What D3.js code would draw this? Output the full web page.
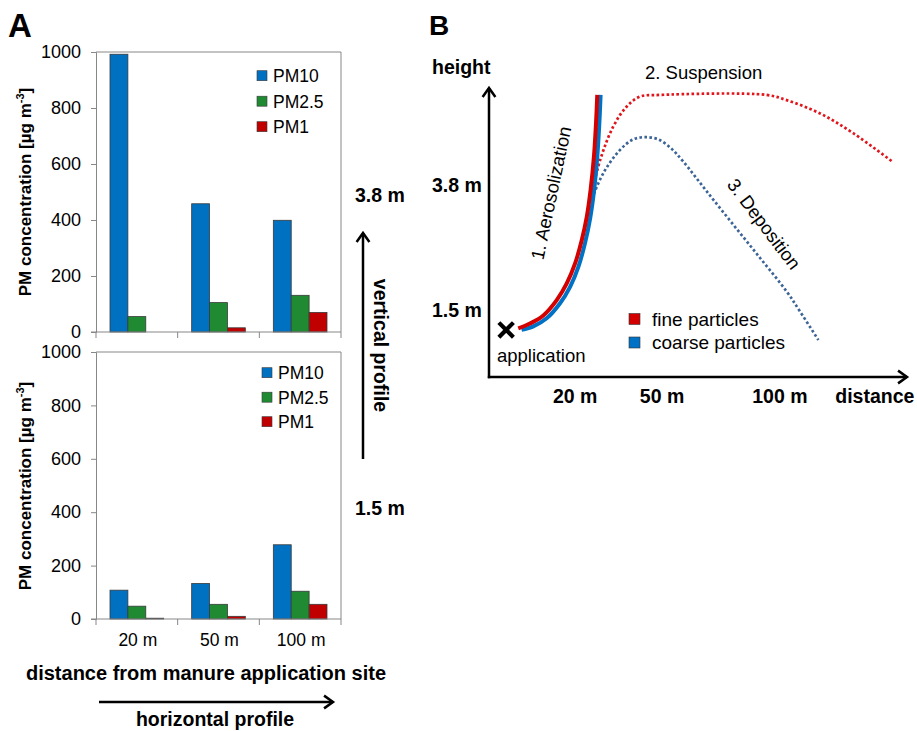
<!DOCTYPE html>
<html>
<head>
<meta charset="utf-8">
<script src="https://cdn.jsdelivr.net/npm/d3@7"></script>
<style>
  body { margin: 0; background: #fff; }
  svg { display: block; }
  text { font-family: "Liberation Sans", Arial, sans-serif; fill: #000; }
</style>
</head>
<body>
<div id="chart"></div>
<script>
/////////////////////////////////////////
//////////////// DATA ///////////////////
/////////////////////////////////////////

const distances = ["20 m", "50 m", "100 m"];
const fractions = ["PM10", "PM2.5", "PM1"];
const yTicks = [0, 200, 400, 600, 800, 1000];

//3.8 m sampling height
const pm10_high = [992, 458, 399];
const pm25_high = [55, 105, 131];
const pm1_high = [0, 15, 70];

//1.5 m sampling height
const pm10_low = [108, 133, 278];
const pm25_low = [48, 55, 104];
const pm1_low = [3, 10, 55];

//panel B schematic, [distance, height] in relative units (0-100)
const fineRise = [[7.0, 16.8], [9.8, 18.5], [13.0, 21.3], [16.2, 26.6], [18.6, 32.4], [20.6, 39.3], [22.2, 47.4], [23.4, 55.5], [24.3, 64.7], [25.1, 76.2], [25.6, 87.8], [25.9, 97.6]];
const coarseRise = [[7.8, 16.3], [10.6, 17.5], [13.8, 20.3], [17.0, 25.5], [19.4, 31.2], [21.4, 38.2], [23.0, 46.5], [24.2, 54.9], [25.1, 64.1], [25.9, 76.2], [26.4, 87.8], [26.7, 97.6]];
const fineDrift = [[24.2, 61.2], [26.6, 75.1], [29.7, 86.6], [32.9, 93.5], [36.1, 97.0], [40.9, 97.6], [66.4, 97.6], [71.2, 95.8], [79.2, 91.2], [87.2, 84.3], [96.7, 74.3]];
const coarseDrift = [[24.2, 60.1], [27.3, 70.4], [31.3, 78.5], [34.5, 82.2], [37.5, 83.0], [40.5, 82.2], [43.5, 79.2], [46.5, 74.5], [52.1, 64.2], [58.5, 52.6], [64.9, 41.1], [71.2, 29.6], [74.4, 22.7], [78.8, 12.8]];
const applicationPoint = [4.1, 16.3];

const heightLabels = ["1.5 m", "3.8 m"];
const distanceLabels = ["20 m", "50 m", "100 m", "distance"];
const particleLabels = ["fine particles", "coarse particles"];

/////////////////////////////////////////
/////////////// COLORS //////////////////
/////////////////////////////////////////

const COLORS = {
    "PM10": "#0070C0",
    "PM2.5": "#1F8A32",
    "PM1": "#C00000",
    "barStroke": "#3a3a3a",
    "axis": "#878787",
    "fine": "#D40000",
    "coarse": "#0072C6",
    "fineDot": "#E0161C",
    "coarseDot": "#3C6496"
};

const W = 917, H = 731;
const FONT_BOLD = 19.5;

const svg = d3.select("#chart").append("svg")
    .attr("width", W)
    .attr("height", H);

svg.append("rect").attr("width", W).attr("height", H).attr("fill", "#fff");

// arrow with open chevron head
function arrow(g, x1, y1, x2, y2) {
    const a = Math.atan2(y2 - y1, x2 - x1);
    const L = 11, spread = 0.62;
    g.append("line")
        .attr("x1", x1).attr("y1", y1).attr("x2", x2).attr("y2", y2)
        .attr("stroke", "#000").attr("stroke-width", 2.5);
    g.append("path")
        .attr("d", `M${x2 - L * Math.cos(a - spread)},${y2 - L * Math.sin(a - spread)}L${x2},${y2}L${x2 - L * Math.cos(a + spread)},${y2 - L * Math.sin(a + spread)}`)
        .attr("fill", "none").attr("stroke", "#000").attr("stroke-width", 2.5)
        .attr("stroke-linejoin", "miter");
}

/////////////////////////////////////////
/////////////// PANEL A /////////////////
/////////////////////////////////////////

const x0 = d3.scaleBand().domain(distances).range([96, 341]);
const x1 = d3.scaleBand().domain(fractions).range([14, x0.bandwidth() - 14]);

function barPanel(values, top, bottom, legendX, legendY, legendStep, labelY, showCats) {
    const y = d3.scaleLinear().domain([0, 1000]).range([bottom, top]);
    const g = svg.append("g");

    const rows = distances.map((d, i) => ({
        dist: d,
        vals: fractions.map((f, j) => ({ key: f, value: values[j][i] }))
    }));

    //bars
    g.selectAll("g.group")
        .data(rows)
        .join("g")
        .attr("transform", d => `translate(${x0(d.dist)},0)`)
        .selectAll("rect")
        .data(d => d.vals.filter(v => v.value > 0))
        .join("rect")
        .attr("x", d => x1(d.key))
        .attr("y", d => y(d.value))
        .attr("width", x1.bandwidth())
        .attr("height", d => y(0) - y(d.value))
        .attr("fill", d => COLORS[d.key])
        .attr("stroke", COLORS.barStroke)
        .attr("stroke-width", 0.8);

    //frame
    const [xl, xr] = x0.range();
    g.append("path")
        .attr("d", `M${xl},${y(1000)}H${xr}V${y(0)}`)
        .attr("fill", "none").attr("stroke", COLORS.axis).attr("stroke-width", 1);

    //y axis
    const yAxis = g.append("g")
        .attr("transform", `translate(${xl},0)`)
        .call(d3.axisLeft(y).tickValues(yTicks).tickFormat(d3.format("d")).tickSize(5).tickPadding(10));
    yAxis.select(".domain").attr("stroke", COLORS.axis);
    yAxis.selectAll(".tick line").attr("stroke", COLORS.axis);
    yAxis.selectAll(".tick text")
        .attr("font-size", 18).attr("fill", "#1a1a1a")
        .attr("font-family", "Liberation Sans, Arial, sans-serif");

    //x axis with separators between categories
    g.append("line")
        .attr("x1", xl - 5).attr("x2", xr).attr("y1", y(0)).attr("y2", y(0))
        .attr("stroke", COLORS.axis);
    g.selectAll("line.sep")
        .data(distances.map(d => x0(d)).concat([xr]))
        .join("line")
        .attr("class", "sep")
        .attr("x1", d => d).attr("x2", d => d)
        .attr("y1", y(0)).attr("y2", y(0) + 6)
        .attr("stroke", COLORS.axis);

    if (showCats) {
        g.selectAll("text.cat")
            .data(distances)
            .join("text")
            .attr("class", "cat")
            .attr("x", d => x0(d) + x0.bandwidth() / 2 + 1)
            .attr("y", y(0) + 27)
            .attr("text-anchor", "middle")
            .attr("font-size", 17.5)
            .attr("fill", "#1a1a1a")
            .text(d => d);
    }

    //y label
    const lab = g.append("text")
        .attr("transform", `translate(31,${labelY}) rotate(-90)`)
        .attr("text-anchor", "middle")
        .attr("font-size", 17)
        .attr("font-weight", "bold")
        .attr("fill", "#1a1a1a");
    lab.append("tspan").text("PM concentration [µg m");
    lab.append("tspan").attr("dy", -7).attr("font-size", 11).text("-3");
    lab.append("tspan").attr("dy", 7).text("]");

    //legend
    const leg = g.selectAll("g.leg")
        .data(fractions)
        .join("g")
        .attr("transform", (d, i) => `translate(${legendX},${legendY + i * legendStep})`);
    leg.append("rect")
        .attr("x", 0).attr("y", -5).attr("width", 10).attr("height", 10)
        .attr("fill", d => COLORS[d]).attr("stroke", COLORS.barStroke).attr("stroke-width", 0.6);
    leg.append("text")
        .attr("x", 16).attr("y", 6.3)
        .attr("font-size", 17.5).attr("fill", "#1a1a1a")
        .text(d => d);
}

barPanel([pm10_high, pm25_high, pm1_high], 52, 332, 257, 75.7, 25.5, 192, false);
barPanel([pm10_low, pm25_low, pm1_low], 352, 619, 262, 372.7, 24.5, 486, true);

//panel A annotations
svg.append("text").attr("x", 8).attr("y", 37)
    .attr("font-size", 33).attr("font-weight", "bold").text("A");

svg.append("text").attr("x", 355).attr("y", 201.5)
    .attr("font-size", FONT_BOLD).attr("font-weight", "bold").text(heightLabels[1]);
svg.append("text").attr("x", 355).attr("y", 514.5)
    .attr("font-size", FONT_BOLD).attr("font-weight", "bold").text(heightLabels[0]);

const annA = svg.append("g");
arrow(annA, 363, 459, 363, 233);
arrow(annA, 99, 702, 333, 702);

svg.append("text")
    .attr("transform", "translate(374,345.5) rotate(90)")
    .attr("text-anchor", "middle")
    .attr("font-size", FONT_BOLD).attr("font-weight", "bold")
    .text("vertical profile");

svg.append("text").attr("x", 206).attr("y", 680)
    .attr("text-anchor", "middle")
    .attr("font-size", 20).attr("font-weight", "bold")
    .text("distance from manure application site");

svg.append("text").attr("x", 215).attr("y", 726)
    .attr("text-anchor", "middle")
    .attr("font-size", FONT_BOLD).attr("font-weight", "bold")
    .text("horizontal profile");

/////////////////////////////////////////
/////////////// PANEL B /////////////////
/////////////////////////////////////////

const xB = d3.scaleLinear().domain([0, 100]).range([489, 907]);
const yB = d3.scaleLinear().domain([0, 100]).range([377, 88]);

const gB = svg.append("g");

svg.append("text").attr("x", 429).attr("y", 35)
    .attr("font-size", 28).attr("font-weight", "bold").text("B");

//axes
arrow(gB, xB(0), yB(0) + 1.2, xB(0), yB(100));
arrow(gB, xB(0) - 1.2, yB(0), xB(100), yB(0));

const line = d3.line()
    .x(d => xB(d[0]))
    .y(d => yB(d[1]))
    .curve(d3.curveCatmullRom.alpha(0.5));

//dotted drift paths
gB.append("path").attr("d", line(coarseDrift))
    .attr("fill", "none").attr("stroke", COLORS.coarseDot)
    .attr("stroke-width", 2.7).attr("stroke-dasharray", "2.6,2.4");
gB.append("path").attr("d", line(fineDrift))
    .attr("fill", "none").attr("stroke", COLORS.fineDot)
    .attr("stroke-width", 2.7).attr("stroke-dasharray", "2.6,2.4");

//aerosolization paths
gB.append("path").attr("d", line(coarseRise))
    .attr("fill", "none").attr("stroke", COLORS.coarse).attr("stroke-width", 4);
gB.append("path").attr("d", line(fineRise))
    .attr("fill", "none").attr("stroke", COLORS.fine).attr("stroke-width", 4);

//application cross
gB.append("path")
    .attr("d", d3.symbol(d3.symbolX, 140)())
    .attr("transform", `translate(${xB(applicationPoint[0])},${yB(applicationPoint[1])})`)
    .attr("fill", "none").attr("stroke", "#000").attr("stroke-width", 4.2);

gB.append("text").attr("x", 497).attr("y", 361.5)
    .attr("font-size", 18.5).text("application");

//axis labels
gB.append("text").attr("x", 432).attr("y", 74)
    .attr("font-size", FONT_BOLD).attr("font-weight", "bold").text("height");

const heightPos = [23.2, 66.4];
gB.selectAll("text.hl")
    .data(heightLabels)
    .join("text")
    .attr("class", "hl")
    .attr("x", 432)
    .attr("y", (d, i) => yB(heightPos[i]) + 7)
    .attr("font-size", FONT_BOLD).attr("font-weight", "bold")
    .text(d => d);

const distPos = [20.6, 41.4, 69.6, 92.3];
gB.selectAll("text.dl")
    .data(distanceLabels)
    .join("text")
    .attr("class", "dl")
    .attr("x", (d, i) => xB(distPos[i]))
    .attr("y", 403)
    .attr("text-anchor", "middle")
    .attr("font-size", FONT_BOLD).attr("font-weight", "bold")
    .text(d => d);

//process labels
gB.append("text").attr("x", 645).attr("y", 78.5)
    .attr("font-size", 18.5).text("2. Suspension");

gB.append("text")
    .attr("transform", "translate(551,193) rotate(-78)")
    .attr("text-anchor", "middle").attr("dy", "0.35em")
    .attr("font-size", 18.5).text("1. Aerosolization");

gB.append("text")
    .attr("transform", "translate(764,224) rotate(53)")
    .attr("text-anchor", "middle").attr("dy", "0.35em")
    .attr("font-size", 18.5).text("3. Deposition");

//legend
const legB = gB.selectAll("g.legB")
    .data(particleLabels)
    .join("g")
    .attr("transform", (d, i) => `translate(629,${319 + i * 23.5})`);
legB.append("rect")
    .attr("x", 0).attr("y", -5.5).attr("width", 11).attr("height", 11)
    .attr("fill", (d, i) => i === 0 ? COLORS.fine : COLORS.coarse)
    .attr("stroke", "#333").attr("stroke-width", 0.6);
legB.append("text")
    .attr("x", 23).attr("y", 6.5)
    .attr("font-size", 19)
    .text(d => d);
</script>
</body>
</html>
